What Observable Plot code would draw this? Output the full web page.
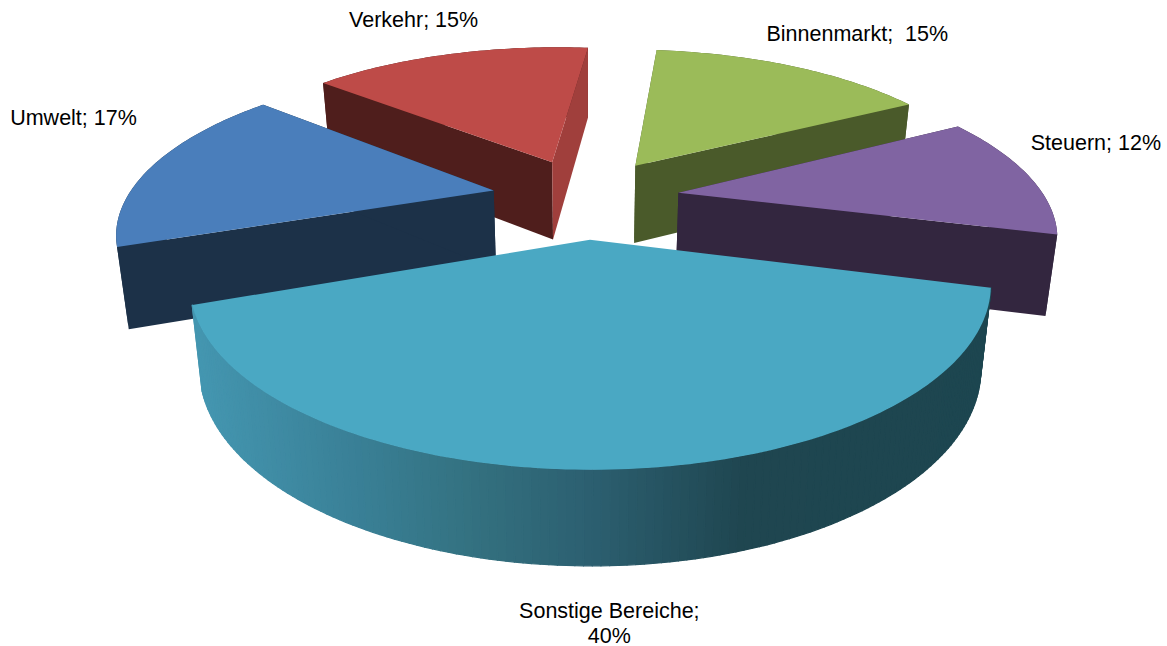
<!DOCTYPE html>
<html>
<head>
<meta charset="utf-8">
<style>html,body{margin:0;padding:0;background:#fff}svg{display:block}</style>
<script src="https://cdn.jsdelivr.net/npm/d3@7"></script>
<script src="https://cdn.jsdelivr.net/npm/@observablehq/plot@0.6"></script>
</head>
<body>
<div id="chart"></div>
<script>
// Data (shares; the printed labels are rounded)
const categories = ["Binnenmarkt", "Steuern", "Sonstige Bereiche", "Umwelt", "Verkehr"];
const shares = [15.35, 12.05, 40.2, 16.7, 15.45];
const labels = ["Binnenmarkt;\u00a0\u00a015%", "Steuern; 12%", "Sonstige Bereiche;\n40%", "Umwelt; 17%", "Verkehr; 15%"];

// Styles
const topColors = ["#9bbb59", "#8064a2", "#4aa8c3", "#4a7ebb", "#be4b48"];
const startFaceColors = ["#4a5a2a", "#33263f", "#1d4650", "#1c3148", "#4f1e1c"];
const endFaceColors = ["#4a5a2a", "#33263f", "#1d4650", "#1c3148", "#a03f3c"];
const drawOrder = [4, 3, 0, 1, 2];
const gradientSlice = 2;
const labelShift = [[65, -33], [68, -33], [-5, 153], [-80, -48], [-36, -35]];
const rimStopX = [205, 350, 480, 590, 740, 1000];
const rimStopColor = ["#4496b0", "#3a8198", "#33707f", "#2c5f70", "#1f4650", "#1d4650"];

// 3D pie projection
const view = {cx: 585, cy: 197, radius: 3.89, ax: 94.2, ay: 39.9, persp: 0.058, firstAngle: 6};
const rad = d => d * Math.PI / 180;
const project = (X, Y) => {
  const w = 1 + view.persp * Y;
  return [view.cx + view.ax * X / w, view.cy - view.ay * Y / w];
};
const extrude = ([x, y]) => [view.cx + (x - view.cx) * 0.975, y + 67 + 0.062 * y];

const total = d3.sum(shares);
let running = view.firstAngle;
const slices = shares.map((s, i) => {
  const a0 = running, a1 = running + s / total * 360;
  running = a1;
  return {i, a0, a1, mid: (a0 + a1) / 2};
});
const apexOf = s => [Math.sin(rad(s.mid)), Math.cos(rad(s.mid))];
const rimAt = (s, a, f = 1) => {
  const [ex, ey] = apexOf(s);
  return project(ex + f * view.radius * Math.sin(rad(a)), ey + f * view.radius * Math.cos(rad(a)));
};
const poly = (pts, color, stroke) => Plot.line(pts, {
  x: d => d[0], y: d => d[1], curve: "linear-closed",
  fill: color, stroke: stroke ? color : "none", strokeWidth: stroke ? 1.3 : 0
});

const rimGradient = d3.scaleLinear().domain(rimStopX).range(rimStopColor).clamp(true);
const marks = [];
for (const i of drawOrder) {
  const s = slices[i];
  const apex = rimAt(s, s.a0, 0);
  const angles = d3.range(s.a0, s.a1, 1).concat([s.a1]);
  const arc = angles.map(a => rimAt(s, a));
  const apexLow = extrude(apex);
  const p0 = arc[0], p1 = arc[arc.length - 1];
  if (i === gradientSlice) {
    // the big slice shows only its rim, shaded across its width
    for (let k = 0; k + 1 < arc.length; k++) {
      const q = [arc[k], arc[k + 1], extrude(arc[k + 1]), extrude(arc[k])];
      marks.push(poly(q, rimGradient((q[2][0] + q[3][0]) / 2), true));
    }
  } else {
    marks.push(poly([...arc, ...arc.map(extrude).reverse()], startFaceColors[i]));
    marks.push(poly([apex, p0, extrude(p0), apexLow], startFaceColors[i]));
    marks.push(poly([apex, p1, extrude(p1), apexLow], endFaceColors[i]));
  }
  marks.push(poly([apex, ...arc], topColors[i]));
}

const labelRows = slices.map(s => {
  const [x, y] = rimAt(s, s.mid);
  return {x: x + labelShift[s.i][0], y: y + labelShift[s.i][1], text: labels[s.i], category: categories[s.i]};
});
marks.push(Plot.text(labelRows, {
  x: "x", y: "y", text: "text", fontSize: 21.5, lineHeight: 1.16,
  fontFamily: "'Liberation Sans', Arial, sans-serif", fill: "#000", textAnchor: "middle"
}));

const chart = Plot.plot({
  width: 1167, height: 646,
  margin: 0,
  x: {domain: [0, 1167], range: [0, 1167], axis: null},
  y: {domain: [0, 646], range: [0, 646], axis: null},
  style: {background: "#fff"},
  marks
});
document.getElementById("chart").append(chart);
</script>
</body>
</html>
